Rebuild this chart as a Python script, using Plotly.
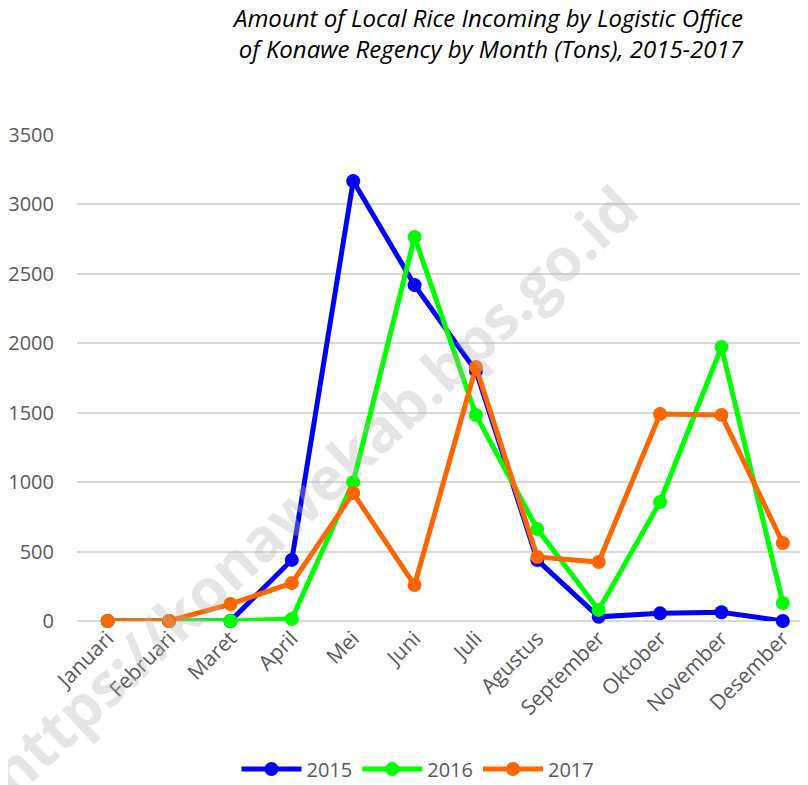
import plotly.graph_objects as go

months = ["Januari", "Februari", "Maret", "April", "Mei", "Juni", "Juli",
          "Agustus", "September", "Oktober", "November", "Desember"]
y2015 = [0, 0, 0, 440, 3168, 2419, 1800, 439, 30, 55, 63, 0]
y2016 = [0, 0, 0, 15, 1000, 2765, 1483, 662, 80, 857, 1973, 130]
y2017 = [0, 0, 122, 273, 921, 259, 1829, 461, 425, 1490, 1483, 561]
series_names = ["2015", "2016", "2017"]
colors = ["#0000FF", "#00FF00", "#FF6600"]
y_ticks = [0, 500, 1000, 1500, 2000, 2500, 3000, 3500]

# page has an 8px body margin, so figure coords = reference coords - 8
OFF = 8
W, H = 800, 777
L, T = 77 - OFF, 135 - OFF
PW, PH = 731, 486
R, B = W - L - PW, H - T - PH
PLOT_BOTTOM = T + PH


def px_x(x):
    return (x - OFF - L) / PW


def px_y(y):
    return (PLOT_BOTTOM - (y - OFF)) / PH


fig = go.Figure()
for name, ys, c in zip(series_names, [y2015, y2016, y2017], colors):
    fig.add_trace(go.Scatter(
        x=list(range(len(months))), y=ys, name=name, mode="lines+markers",
        line=dict(color=c, width=5),
        marker=dict(color=c, size=14),
        cliponaxis=False,
    ))

fig.update_layout(
    width=W, height=H,
    margin=dict(l=L, r=R, t=T, b=B, autoexpand=False),
    plot_bgcolor="white", paper_bgcolor="white",
    font=dict(family="Open Sans, Liberation Sans, sans-serif", color="#595959", size=20),
    showlegend=True,
    legend=dict(orientation="h", x=px_x(418), xanchor="center",
                y=px_y(769), yanchor="middle",
                font=dict(size=20, color="#595959"), itemwidth=60,
                traceorder="normal"),
    xaxis=dict(
        tickmode="array", tickvals=list(range(len(months))), ticktext=months,
        range=[-0.5, 11.41], tickangle=-45, showgrid=False, zeroline=False,
        showline=False, ticks="", tickfont=dict(size=21, color="#595959"),
        automargin=False,
    ),
    yaxis=dict(
        range=[0, 3500], tickvals=y_ticks, showgrid=True, gridcolor="#D9D9D9",
        gridwidth=2, zeroline=True, zerolinecolor="#D9D9D9", zerolinewidth=2,
        showline=False, ticks="", tickfont=dict(size=20, color="#595959"),
        ticklabelstandoff=22, automargin=False,
    ),
)

# Title
fig.add_annotation(
    text="<i>Amount of Local Rice Incoming by Logistic Office<br>of Konawe Regency by Month (Tons), 2015-2017</i>",
    xref="paper", yref="paper", x=px_x(488), y=px_y(33),
    xanchor="center", yanchor="middle", showarrow=False, align="right",
    font=dict(size=24, color="#000000", family="Open Sans, sans-serif"),
)

# Watermark
fig.add_annotation(
    text="<b>https://konawekab.bps.go.id</b>",
    xref="paper", yref="paper",
    x=px_x(312), y=px_y(490),
    xanchor="center", yanchor="middle",
    showarrow=False, textangle=-43,
    font=dict(size=60, color="rgba(180,180,180,0.35)", family="Open Sans, sans-serif"),
)

fig.write_html("out.html")
